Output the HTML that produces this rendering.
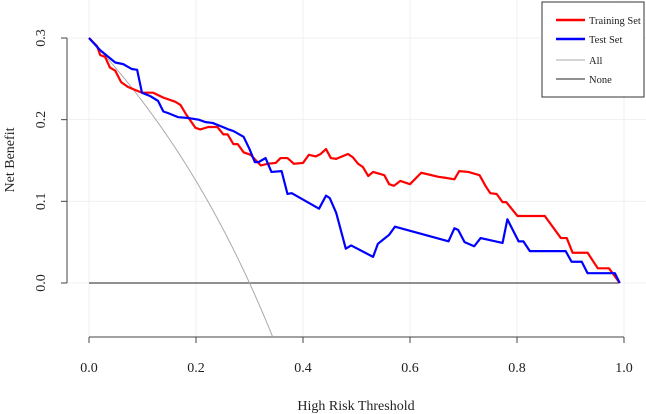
<!DOCTYPE html>
<html><head><meta charset="utf-8"><style>
html,body{margin:0;padding:0;background:#fff;}
svg{display:block;font-family:"Liberation Serif",serif;}
</style></head><body>
<svg id="chart" width="646" height="414" viewBox="0 0 646 414">
<g id="grid"></g>
<g id="axes"></g>
<g id="series"></g>
<text x="356" y="410" text-anchor="middle" font-size="14" fill="#222">High Risk Threshold</text>
<text transform="translate(14,160) rotate(-90)" text-anchor="middle" font-size="14" fill="#222">Net Benefit</text>
<g>
<rect x="542" y="2" width="102" height="95" fill="#fff" stroke="#333" stroke-width="1"/>
<line x1="556" y1="20" x2="585" y2="20" stroke="#ff0000" stroke-width="2.5"/>
<text x="589" y="24" font-size="10.5" fill="#222">Training Set</text>
<line x1="556" y1="39" x2="585" y2="39" stroke="#0000ff" stroke-width="2.5"/>
<text x="589" y="43" font-size="10.5" fill="#222">Test Set</text>
<line x1="556" y1="60" x2="585" y2="60" stroke="#aaa" stroke-width="1"/>
<text x="589" y="64" font-size="10.5" fill="#222">All</text>
<line x1="556" y1="79" x2="585" y2="79" stroke="#222" stroke-width="1"/>
<text x="589" y="83" font-size="10.5" fill="#222">None</text>
</g>
</svg>
<script>
const xTicks=[0,0.2,0.4,0.6,0.8,1.0];
const xTickLabels=["0.0","0.2","0.4","0.6","0.8","1.0"];
const yTicks=[0,0.1,0.2,0.3];
const yTickLabels=["0.0","0.1","0.2","0.3"];
const prevalence=0.3;
const trainT=[0,.015,.021,.03,.039,.049,.06,.073,.099,.12,.139,.161,.171,.182,.199,.208,.223,.24,.251,.259,.27,.278,.289,.302,.321,.334,.349,.358,.371,.383,.4,.411,.424,.433,.443,.452,.462,.484,.493,.503,.512,.522,.531,.552,.561,.570,.582,.60,.621,.653,.664,.683,.692,.709,.73,.741,.75,.762,.773,.78,.801,.852,.882,.893,.904,.932,.951,.972,.992];
const trainV=[.3,.29,.279,.277,.264,.26,.246,.24,.233,.233,.227,.222,.218,.206,.19,.188,.191,.191,.182,.182,.17,.17,.16,.157,.144,.146,.147,.153,.153,.146,.147,.157,.155,.158,.164,.153,.152,.158,.154,.146,.142,.131,.136,.132,.121,.119,.125,.121,.135,.13,.129,.127,.137,.136,.132,.119,.11,.109,.099,.099,.082,.082,.055,.055,.037,.037,.018,.018,0];
const testT=[0,.021,.049,.064,.08,.09,.099,.114,.129,.139,.148,.167,.186,.205,.218,.231,.25,.261,.27,.289,.3,.31,.317,.33,.341,.36,.371,.379,.43,.443,.45,.462,.48,.49,.531,.54,.561,.572,.672,.683,.69,.702,.72,.732,.773,.782,.803,.812,.824,.891,.902,.921,.932,.983,.992];
const testV=[.3,.285,.27,.268,.262,.261,.233,.229,.223,.21,.208,.203,.202,.2,.197,.196,.191,.188,.186,.179,.164,.148,.148,.153,.136,.137,.109,.11,.091,.107,.104,.086,.042,.046,.032,.048,.059,.069,.051,.067,.065,.05,.045,.055,.049,.078,.051,.051,.039,.039,.026,.026,.012,.012,0];
const NS='http://www.w3.org/2000/svg';
const X0=89,XS=535,Y0=283,YS=816.7,YMIN=-0.066;
function xs(t){return X0+t*XS;}
function ys(v){return Y0-v*YS;}
function mk(tag,attrs,parent){const e=document.createElementNS(NS,tag);for(const k in attrs)e.setAttribute(k,attrs[k]);parent.appendChild(e);return e;}
const grid=document.getElementById('grid'),axes=document.getElementById('axes'),series=document.getElementById('series');
xTicks.forEach((t,i)=>{
 const g=mk('line',{x1:xs(t),x2:xs(t),y1:0,y2:337,stroke:'#f0f0f0','stroke-width':1},grid);
 
 
 const tk=mk('line',{x1:xs(t),x2:xs(t),y1:337,y2:343,stroke:'#444','stroke-width':1},axes);
 
 
 const lb=mk('text',{x:xs(t),y:372,'text-anchor':'middle','font-size':14,fill:'#222'},axes);
 lb.textContent=xTickLabels[i];
 
 
});
yTicks.forEach((v,i)=>{
 const g=mk('line',{x1:67,x2:646,y1:ys(v),y2:ys(v),stroke:'#f0f0f0','stroke-width':1},grid);
 
 
 const tk=mk('line',{x1:61,x2:67,y1:ys(v),y2:ys(v),stroke:'#444','stroke-width':1},axes);
 
 
 const lb=mk('text',{transform:`translate(45,${ys(v)}) rotate(-90)`,'text-anchor':'middle','font-size':14,fill:'#222'},axes);
 lb.textContent=yTickLabels[i];
 
 
});
const xa=mk('line',{x1:xs(0),x2:xs(1),y1:337,y2:337,stroke:'#444','stroke-width':1},axes);


const ya=mk('line',{x1:67,x2:67,y1:ys(0.3),y2:ys(0),stroke:'#444','stroke-width':1},axes);


const none=mk('line',{x1:xs(0),x2:xs(0.99),y1:ys(0),y2:ys(0),stroke:'#222','stroke-width':1},series);


let pts=[];
for(let t=0;t<0.99;t+=0.005){const v=prevalence-(1-prevalence)*t/(1-t);if(v<YMIN){const tt=(prevalence-YMIN)/(1-YMIN);pts.push(xs(tt)+','+ys(YMIN));break;}pts.push(xs(t)+','+ys(v));}
const all=mk('polyline',{points:pts.join(' '),fill:'none',stroke:'#aaa','stroke-width':1},series);


function line(T,V,color,name){
 const p=mk('polyline',{points:T.map((t,i)=>xs(t)+','+ys(V[i])).join(' '),fill:'none',stroke:color,'stroke-width':2.2,'stroke-linejoin':'round'},series);
 
 
}
line(trainT,trainV,'#ff0000','training-set-curve');
line(testT,testV,'#0000ff','test-set-curve');
</script>
</body></html>
